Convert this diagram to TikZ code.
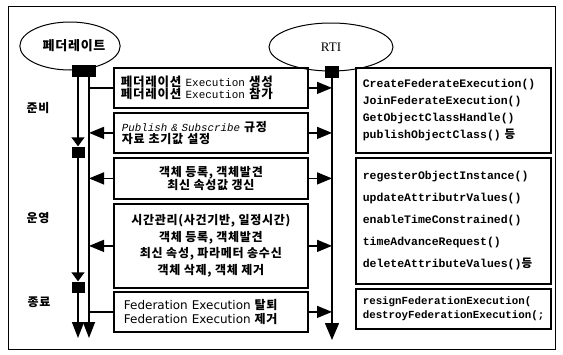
\documentclass[tikz,border=0pt]{standalone}
\usepackage{fontspec}
\setmainfont{Noto Sans CJK KR}[LetterSpace=6]
\setmonofont{Liberation Mono}
\newfontfamily\rtifont{Liberation Serif}
\newfontfamily\execfont{DejaVu Sans}
\newfontfamily\krfont{Noto Sans CJK KR}[LetterSpace=6]
\usepackage{tikz}
\usetikzlibrary{positioning}
\usetikzlibrary{calc}
\usetikzlibrary{arrows.meta}
\usetikzlibrary{shapes.geometric}

\newcommand{\mtext}[1]{{\fontsize{11}{12.5}\selectfont\ttfamily\mdseries #1}}

\tikzset{
	actor/.style={draw, ellipse, line width=1pt, inner sep=0pt},
	block/.style={fill=black, inner sep=0pt},
	msgbox/.style={draw, line width=1.8pt, minimum width=194pt, inner xsep=7pt,
		inner ysep=0pt, anchor=north west},
	apibox/.style={draw, line width=1.6pt, minimum width=195pt, text width=181pt,
		inner xsep=7pt, inner ysep=0pt, anchor=north west, align=left},
	lifeline/.style={line width=1.5pt},
	msg/.style={line width=1.5pt, -{Triangle[length=15pt,width=12pt]}},
	phasetip/.style={-{Triangle[length=9pt,width=13pt]}},
	endtip/.style={-{Triangle[length=16pt,width=12pt]}},
	phaselabel/.style={font=\bfseries\fontsize{12}{13}\selectfont}
}

\begin{document}
\begin{tikzpicture}[x=1pt,y=-1pt]

\useasboundingbox (0,0) rectangle (563,354);
\draw[line width=0.8pt] (8,6) rectangle (555,349);

% actors
\node[
	actor,
	minimum width=95pt,
	minimum height=48pt,
	font=\bfseries\fontsize{13}{14}\selectfont
] (federate) at (70,46) {\hspace*{8pt}페더레이트};

\node[
	actor,
	minimum width=124pt,
	minimum height=48pt,
	font=\rtifont\fontsize{13}{14}\selectfont
] (rti) at (331,47) {RTI};

\node[block, minimum width=24pt, minimum height=12pt] (fedBlock) at (84,71) {};
\node[block, minimum width=14pt, minimum height=12pt] (rtiBlock) at (332,72) {};
\node[block, minimum width=13pt, minimum height=11pt] (runStart) at (78,152) {};
\node[block, minimum width=13pt, minimum height=11pt] (endStart) at (78,287) {};

\coordinate (fedEnd) at (78,338);
\coordinate (busEnd) at (89,338);
\coordinate (rtiEnd) at (332,340);

% phases
\node[phaselabel] (prepLabel) at (38,108) {준비};
\node[phaselabel] (runLabel) at (38,218) {운영};
\node[phaselabel] (endLabel) at (39,302) {종료};

% federate side boxes
\node[
	msgbox,
	minimum height=40pt,
	text width=180pt,
	align=left,
	font=\bfseries\fontsize{12.5}{12.5}\selectfont
] (create) at (113,67) {페더레이션 \mtext{Execution} 생성\\페더레이션 \mtext{Execution} 참가};

\node[
	msgbox,
	minimum height=40pt,
	text width=178pt,
	inner xsep=8pt,
	align=left,
	font=\bfseries\fontsize{12}{12.5}\selectfont
] (publish) at (113,112) {{\fontsize{10.8}{12.5}\selectfont\ttfamily\mdseries\itshape Publish \& Subscribe} 규정\\자료 초기값 설정};

\node[
	msgbox,
	minimum height=41pt,
	align=center,
	font=\bfseries\fontsize{12}{13}\selectfont
] (discover) at (113,157) {객체 등록, 객체발견\\최신 속성값 갱신};

\node[
	msgbox,
	minimum height=84pt,
	align=center,
	font=\bfseries\fontsize{12}{16.7}\selectfont
] (operate) at (113,203) {시간관리(사건기반, 일정시간)\\객체 등록, 객체발견\\최신 속성, 파라메터 송수신\\객체 삭제, 객체 제거};

\node[
	msgbox,
	minimum height=40pt,
	text width=174pt,
	inner xsep=10pt,
	align=left,
	font=\bfseries\fontsize{12}{14}\selectfont
] (resign) at (113,291) {{\execfont\mdseries Federation Execution} 탈퇴\\{\execfont\mdseries Federation Execution} 제거};

% RTI side boxes
\node[
	apibox,
	minimum height=85pt,
	font=\ttfamily\bfseries\fontsize{11.5}{17}\selectfont
] (apiPrepare) at (355,67) {CreateFederateExecution()\\JoinFederateExecution()\\GetObjectClassHandle()\\publishObjectClass() {\krfont 등}};

\node[
	apibox,
	minimum height=126pt,
	font=\ttfamily\bfseries\fontsize{11.5}{22}\selectfont
] (apiOperate) at (355,157) {regesterObjectInstance()\\updateAttributrValues()\\enableTimeConstrained()\\timeAdvanceRequest()\\deleteAttributeValues(){\krfont 등}};

\node[
	apibox,
	minimum height=40pt,
	font=\ttfamily\bfseries\fontsize{10.8}{14}\selectfont
] (apiResign) at (355,288) {resignFederationExecution(\\destroyFederationExecution(;};

% lifelines
\draw[lifeline, phasetip] (fedBlock.south -| runStart) -- (runStart.north);
\draw[lifeline, phasetip] (runStart.south) -- (endStart.north);
\draw[lifeline, endtip] (endStart.south) -- (fedEnd);
\draw[lifeline, endtip] (fedBlock.south -| busEnd) -- (busEnd);
\draw[lifeline, -{Triangle[length=17pt,width=14pt]}] (rtiBlock.south) -- (rtiEnd);

% messages
\draw[lifeline] (create.west) -- (create.west -| busEnd);
\draw[msg] (create.east) -- (create.east -| rtiEnd);

\draw[msg] (publish.west) -- (publish.west -| busEnd);
\draw[msg] (publish.east) -- (publish.east -| rtiEnd);

\draw[msg] (discover.west) -- (discover.west -| busEnd);
\draw[msg] (discover.east) -- (discover.east -| rtiEnd);

\draw[msg] (operate.west) -- (operate.west -| busEnd);
\draw[msg] (operate.east) -- (operate.east -| rtiEnd);

\draw[lifeline] (resign.west) -- (resign.west -| busEnd);
\draw[msg] (resign.east) -- (resign.east -| rtiEnd);

\end{tikzpicture}
\end{document}
